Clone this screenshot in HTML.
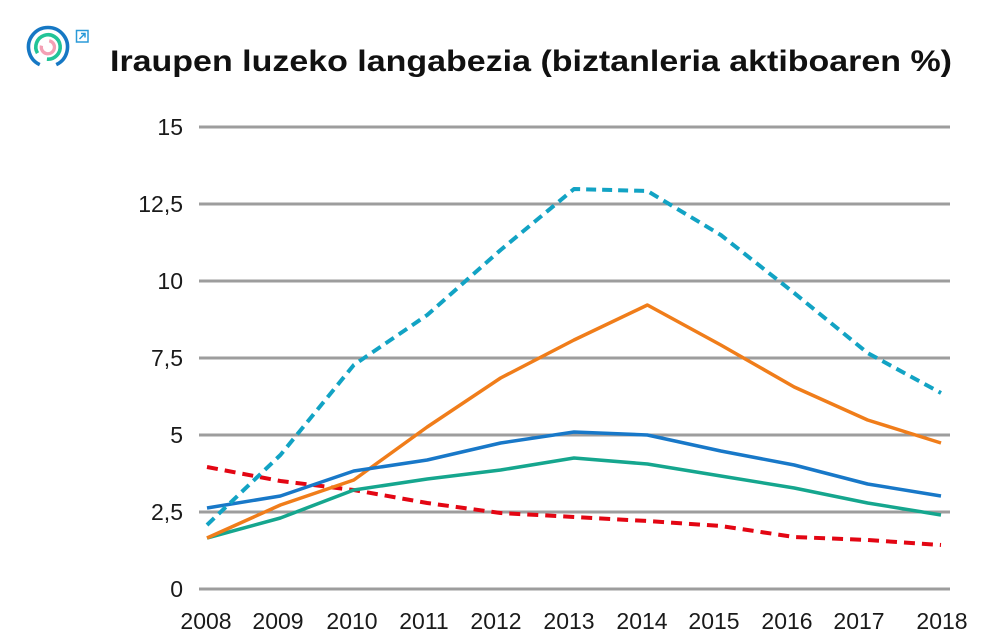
<!DOCTYPE html>
<html>
<head>
<meta charset="utf-8">
<style>
  html,body{margin:0;padding:0;background:#fff;}
  svg{display:block;}
  text{font-family:"Liberation Sans",sans-serif;}
</style>
</head>
<body>
<svg width="1000" height="640" viewBox="0 0 1000 640" xmlns="http://www.w3.org/2000/svg">
  <rect width="1000" height="640" fill="#fff"/>
  <!-- icon -->
  <g fill="none" stroke-linecap="butt">
    <path d="M 39.76 64.67 A 19.5 19.5 0 1 1 56.24 64.67" stroke="#1678c4" stroke-width="3.6"/>
    <path d="M 37.5 53.2 A 12.2 12.2 0 1 1 46.9 59.15" stroke="#22c497" stroke-width="3.6"/>
    <path d="M 49.2 40.7 A 6.6 6.6 0 1 1 41.45 45.6" stroke="#f4a0b4" stroke-width="3.3"/>
  </g>
  <rect x="76.5" y="30.5" width="11.5" height="11.5" fill="none" stroke="#2a9ad8" stroke-width="1.5"/>
  <path d="M 79.5 39 L 85 33.5 M 81 33.5 L 85 33.5 L 85 37.5" fill="none" stroke="#2a9ad8" stroke-width="1.5"/>

  <!-- title -->
  <text x="110" y="71" font-size="30" font-weight="bold" fill="#111" textLength="842" lengthAdjust="spacingAndGlyphs">Iraupen luzeko langabezia (biztanleria aktiboaren %)</text>

  <!-- gridlines -->
  <g stroke="#9d9d9d" stroke-width="3">
    <line x1="199" y1="127" x2="950" y2="127"/>
    <line x1="199" y1="204" x2="950" y2="204"/>
    <line x1="199" y1="281" x2="950" y2="281"/>
    <line x1="199" y1="358" x2="950" y2="358"/>
    <line x1="199" y1="435" x2="950" y2="435"/>
    <line x1="199" y1="512" x2="950" y2="512"/>
    <line x1="199" y1="589" x2="950" y2="589"/>
  </g>

  <!-- y labels -->
  <g font-size="23" fill="#1a1a1a" text-anchor="end">
    <text x="183" y="135">15</text>
    <text x="183" y="212">12,5</text>
    <text x="183" y="289">10</text>
    <text x="183" y="366">7,5</text>
    <text x="183" y="443">5</text>
    <text x="183" y="520">2,5</text>
    <text x="183" y="597">0</text>
  </g>

  <!-- x labels -->
  <g font-size="23" fill="#1a1a1a" text-anchor="middle">
    <text x="206" y="629">2008</text>
    <text x="278" y="629">2009</text>
    <text x="352" y="629">2010</text>
    <text x="424" y="629">2011</text>
    <text x="496" y="629">2012</text>
    <text x="569" y="629">2013</text>
    <text x="642" y="629">2014</text>
    <text x="714" y="629">2015</text>
    <text x="787" y="629">2016</text>
    <text x="859" y="629">2017</text>
    <text x="942" y="629">2018</text>
  </g>

  <!-- series -->
  <g fill="none" stroke-linejoin="round">
    <polyline stroke="#e30613" stroke-width="4" stroke-dasharray="11 7"
      points="207,467 280.4,481 353.8,490 427.2,503 500.6,513 574,517 647.4,521 720.8,526 794.2,537 867.6,540 941,545"/>
    <polyline stroke="#15a68e" stroke-width="3.5"
      points="207,538 280.4,518 353.8,490 427.2,479 500.6,470 574,458 647.4,464 720.8,476 794.2,488 867.6,503 941,515"/>
    <polyline stroke="#f07d1a" stroke-width="3.5"
      points="207,538 280.4,505 353.8,480 427.2,427 500.6,378 574,340 647.4,305 720.8,345 794.2,387 867.6,420 941,443"/>
    <polyline stroke="#1878c8" stroke-width="3.5"
      points="207,508 280.4,496 353.8,471 427.2,460 500.6,443 574,432 647.4,435 720.8,451 794.2,465 867.6,484 941,496"/>
    <polyline stroke="#12a3c4" stroke-width="4" stroke-dasharray="10 6"
      points="207,525 280.4,455 353.8,365 427.2,315 500.6,250 574,189 647.4,191 720.8,235 794.2,293 867.6,353 941,393"/>
  </g>
</svg>
</body>
</html>
